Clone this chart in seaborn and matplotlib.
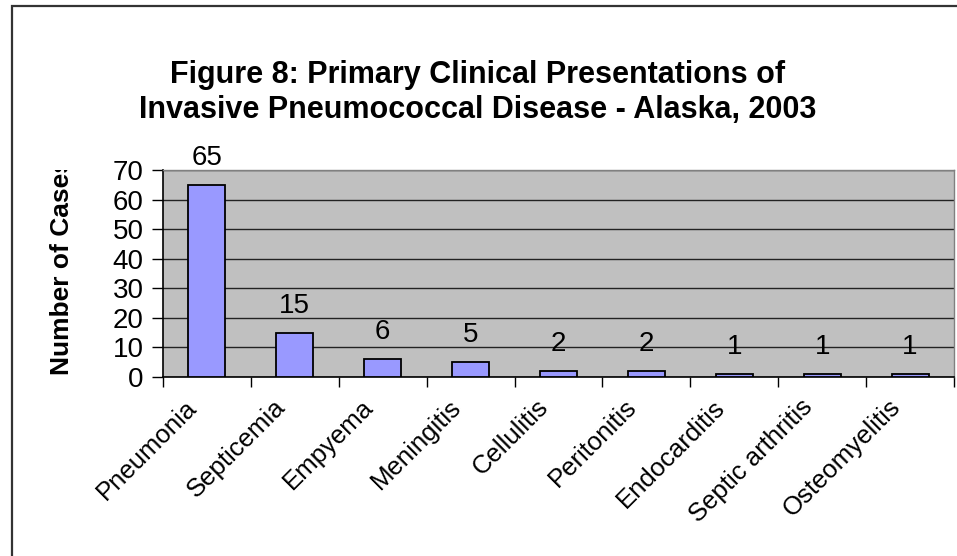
import matplotlib
matplotlib.use("Agg")
import matplotlib.pyplot as plt
import seaborn as sns
import pandas as pd
from matplotlib.transforms import Bbox, ScaledTranslation
from matplotlib.patches import Rectangle

categories = ["Pneumonia", "Septicemia", "Empyema", "Meningitis", "Cellulitis",
              "Peritonitis", "Endocarditis", "Septic arthritis", "Osteomyelitis"]
cases = [65, 15, 6, 5, 2, 2, 1, 1, 1]
yticks = [0, 10, 20, 30, 40, 50, 60, 70]

sns.set_style("white")
plt.rcParams['font.family'] = ['Liberation Sans', 'DejaVu Sans']
plt.rcParams['text.color'] = 'black'
plt.rcParams['xtick.color'] = 'black'
plt.rcParams['ytick.color'] = 'black'

W, H = 957, 556
fig = plt.figure(figsize=(W / 100, H / 100), dpi=100)
fig.patch.set_facecolor("white")

# outer chart border
fig.patches.append(Rectangle((11.5 / W, -0.05), 1.1, (H - 5.5) / H + 0.05,
                             transform=fig.transFigure, fill=False,
                             edgecolor="#333333", linewidth=1.6))

left, right, top, bottom = 163, 954, 170, 377
ax = fig.add_axes([left / W, 1 - bottom / H, (right - left) / W, (bottom - top) / H])
df = pd.DataFrame({"cat": categories, "n": cases})
sns.barplot(data=df, x="cat", y="n", ax=ax, color="#9999FF", saturation=1,
            width=0.42, edgecolor="black", linewidth=1.3, zorder=3)
ax.set_facecolor("#C0C0C0")
ax.set_ylim(0, 70)
ax.set_xlim(-0.5, len(categories) - 0.5)
ax.set_yticks(yticks)
ax.set_yticklabels([str(v) for v in yticks], fontsize=20)
ax.yaxis.grid(True, color="#222222", linewidth=1.0, zorder=1)
ax.set_axisbelow(True)
ax.tick_params(axis="y", direction="out", length=8, width=1, color="black", pad=6, left=True)
ax.set_xticks([i - 0.5 for i in range(len(categories) + 1)], minor=False)
ax.set_xticklabels([""] * (len(categories) + 1))
ax.set_xticks(range(len(categories)), minor=True)
ax.set_xticklabels(categories, minor=True, rotation=45, ha="right",
                   rotation_mode="anchor", fontsize=18.5)
ax.tick_params(axis="x", which="major", direction="out", length=7, width=1, color="black", bottom=True)
ax.tick_params(axis="x", which="minor", length=0, pad=13)
for lab in ax.get_xticklabels(minor=True):
    lab.set_transform(lab.get_transform() + ScaledTranslation(-22 / 100, 0, fig.dpi_scale_trans))
ax.set_xlabel("")
ax.set_ylabel("")
for s in ["top", "right"]:
    ax.spines[s].set_color("#808080")
    ax.spines[s].set_linewidth(1)
for s in ["left", "bottom"]:
    ax.spines[s].set_color("black")
    ax.spines[s].set_linewidth(1.2)

for i, v in enumerate(cases):
    ax.annotate(str(v), (i, v), xytext=(0, 14.5), textcoords="offset points",
                ha="center", va="baseline", fontsize=20, zorder=4)

fig.text(478 / W, 1 - 75 / H, "Figure 8: Primary Clinical Presentations of",
         ha="center", va="center", fontsize=22, fontweight="bold")
fig.text(478 / W, 1 - 110 / H, "Invasive Pneumococcal Disease - Alaska, 2003",
         ha="center", va="center", fontsize=22, fontweight="bold")

yl = fig.text(62 / W, 1 - 375 / H, "Number of Cases", rotation=90,
              ha="center", va="bottom", fontsize=19, fontweight="bold")
yl.set_clip_box(Bbox([[0, 0], [W, H - 170]]))
yl.set_clip_on(True)

fig.savefig("out.png", dpi=100)
